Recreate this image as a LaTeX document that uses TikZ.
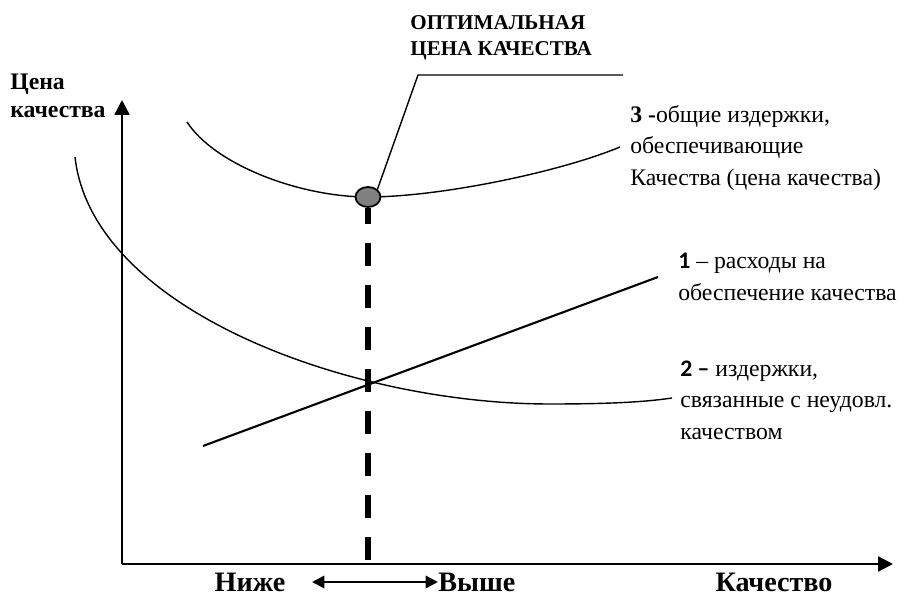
\documentclass[tikz,border=0pt]{standalone}
\usepackage{fontspec}
\setmainfont{Liberation Serif}[BoldFont={Liberation Serif Bold}]
\newfontfamily\numfont{Carlito}[BoldFont={Carlito Bold}]
\usepackage{tikz}
\usetikzlibrary{arrows.meta,positioning,shapes.geometric}

\tikzset{
  curve/.style={line width=0.8pt},
  axis/.style={line width=1.4pt,-{Triangle[length=8.5pt,width=8.5pt]}},
  lbl/.style={font=\fontsize{13.5}{18}\selectfont,align=left,anchor=west,inner sep=0pt},
  bottomlbl/.style={font=\fontsize{16}{18}\selectfont\bfseries,inner sep=0pt},
}

\begin{document}
\begin{tikzpicture}[x=0.02cm,y=-0.02cm]
    \useasboundingbox (0,0) rectangle (909,597);

    % axes
    \coordinate (o) at (122,564);
    \coordinate (ytip) at (122,100);
    \coordinate (xtip) at (893,564);
    \draw[axis] (o) -- (ytip);
    \draw[axis] (o) -- (xtip);
    \node[font=\fontsize{13.5}{16}\selectfont\bfseries,align=left,anchor=north west,inner sep=0pt]
        (ylabel) at (10,74) {Цена\\качества};

    % 3: total costs
    \draw[curve] (187,122) .. controls (215,165) and (300,197) .. (368,197)
                 .. controls (440,197) and (560,172) .. (620,147);
    % 2: costs of poor quality
    \draw[curve] (75,157) .. controls (92,310) and (350,404) .. (550,404)
                 .. controls (610,404) and (645,402) .. (672,398);
    % 1: costs of quality assurance
    \coordinate (l1a) at (203,446);
    \coordinate (l1b) at (658,277);
    \draw[line width=1.2pt] (l1a) -- (l1b);

    % optimum
    \node[ellipse,draw,line width=1pt,fill=gray,minimum width=0.5cm,minimum height=0.4cm,inner sep=0pt]
        (opt) at (368,197) {};
    \draw[line width=3pt,dash pattern=on 0.46cm off 0.38cm,dash phase=0.14cm] (opt.south) -- (opt.south |- o);
    \coordinate (bend) at (418,75);
    \coordinate (lend) at (623,75);
    \draw[line width=0.8pt] (opt.north east) -- (bend) -- (lend);
    \node[font=\fontsize{12}{14.5}\selectfont\bfseries,align=left,anchor=west,inner sep=0pt]
        (title) at (410,38) {ОПТИМАЛЬНАЯ\\ЦЕНА КАЧЕСТВА};

    % curve labels
    \node[lbl] (lab3) at (630,148) {\textbf{3 -}общие издержки,\\обеспечивающие\\Качества (цена качества)};
    \node[lbl] (lab1) at (678,277) {{\numfont\bfseries 1} – расходы на\\обеспечение качества};
    \node[lbl] (lab2) at (680,400) {{\numfont\bfseries 2 –} издержки,\\связанные с неудовл.\\качеством};

    % bottom
    \node[bottomlbl] (low) at (250,582) {Ниже};
    \node[bottomlbl,anchor=west] (high) at (438,582) {Выше};
    \node[bottomlbl] (qual) at (774,582) {Качество};
    \draw[line width=1.4pt,{Triangle[length=7pt,width=7pt]}-{Triangle[length=7pt,width=7pt]}] (312,582) -- (high.west);
\end{tikzpicture}
\end{document}
